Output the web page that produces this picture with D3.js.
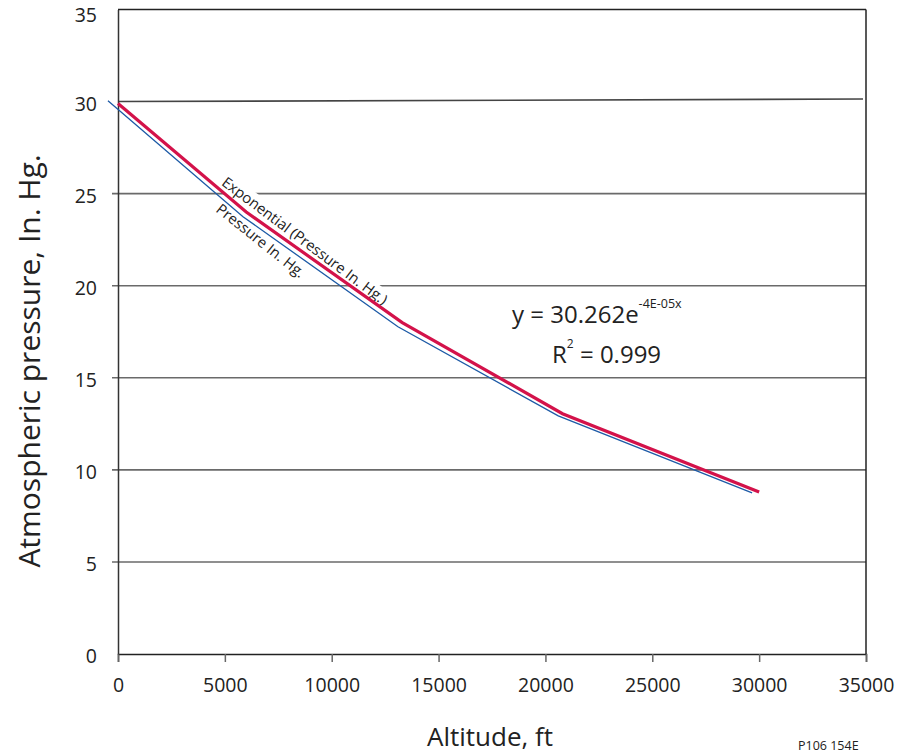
<!DOCTYPE html>
<html><head><meta charset="utf-8">
<script src="https://cdn.jsdelivr.net/npm/d3@7"></script>
<style>
html,body{margin:0;padding:0;background:#fff;}
svg{display:block;font-family:"Open Sans","Noto Sans",sans-serif;}
</style></head>
<body>
<svg id="chart" width="900" height="753"></svg>
<script>
// ---- data ----
const xTicks = [0, 5000, 10000, 15000, 20000, 25000, 30000, 35000];
const yTicks = [0, 5, 10, 15, 20, 25, 30, 35];
// Measured pressure series (blue)
const pressureAlt = [-470, 5850, 13100, 20600, 29670];
const pressureVal = [30.05, 23.75, 17.77, 12.93, 8.75];
// Exponential trendline (red)
const trendAlt = [0, 6000, 13300, 20800, 30000];
const trendVal = [29.9, 24.0, 18.0, 13.05, 8.8];
const equationMain = "y = 30.262e";
const equationExp = "-4E-05x";
const rSquared = "= 0.999";

const svg = d3.select("#chart");
const x = d3.scaleLinear().domain([0, 35000]).range([118, 866]);
const y = d3.scaleLinear().domain([0, 35]).range([654, 9.5]);

// gridlines (with left tick stubs)
const grid = svg.append("g");
yTicks.filter(d => d > 0 && d < 35).forEach(d => {
  grid.append("line")
    .attr("x1", x(0) - (d === 30 ? 0 : 6)).attr("x2", x(35000) - (d === 30 ? 3 : 0))
    .attr("y1", y(d)).attr("y2", y(d) - (d === 30 ? 2.5 : 0))
    .attr("stroke", d === 30 ? "#444" : "#6a6a6a").attr("stroke-width", 1.6);
});

// white box behind the trendline label (hides gridlines)
const lab1 = svg.append("g")
  .attr("transform", `translate(${x(0) + 110},${y(0) - 481}) rotate(36.8)`);
lab1.append("rect").attr("x", -1).attr("y", -1).attr("width", 212).attr("height", 19).attr("fill", "#fff");

// frame
svg.append("line").attr("x1", x(0)).attr("x2", x(35000)).attr("y1", y(35)).attr("y2", y(35))
  .attr("stroke", "#222").attr("stroke-width", 1.5);
svg.append("line").attr("x1", x(35000)).attr("x2", x(35000)).attr("y1", y(35)).attr("y2", y(0))
  .attr("stroke", "#222").attr("stroke-width", 1.5);

// axes
const xAxis = d3.axisBottom(x).tickValues(xTicks).tickSize(8).tickPadding(16).tickFormat(d3.format("d"));
const gx = svg.append("g").attr("transform", `translate(0,${y(0)})`).call(xAxis);
gx.select(".domain").attr("stroke", "#222").attr("stroke-width", 1.5);
gx.selectAll(".tick line").attr("stroke", "#666").attr("stroke-width", 1.5);
gx.selectAll(".tick text").attr("font-size", 19.5).attr("fill", "#222").attr("font-family", "Open Sans");

const yAxis = d3.axisLeft(y).tickValues(yTicks).tickSize(0).tickPadding(21);
const gy = svg.append("g").attr("transform", `translate(${x(0)},0)`).call(yAxis);
gy.select(".domain").attr("stroke", "#333").attr("stroke-width", 1.5);
gy.selectAll(".tick text").attr("font-size", 19.5).attr("fill", "#222").attr("font-family", "Open Sans")
  .attr("dy", d => d === 35 ? "0.6em" : "0.45em");

// series
const line = d3.line().x(d => x(d[0])).y(d => y(d[1]));
svg.append("path").datum(pressureAlt.map((a, i) => [a, pressureVal[i]]))
  .attr("d", line).attr("fill", "none").attr("stroke", "#1d5aa6").attr("stroke-width", 1.3);
svg.append("path").datum(trendAlt.map((a, i) => [a, trendVal[i]]))
  .attr("d", line).attr("fill", "none").attr("stroke", "#d3124a").attr("stroke-width", 3.2);

// line labels
lab1.append("text").attr("x", 1).attr("y", 13.5).attr("font-size", 14.8).attr("fill", "#222")
  .text("Exponential (Pressure In. Hg.)");
svg.append("text").attr("transform", `translate(${x(0) + 97},${y(0) - 443}) rotate(38.5)`)
  .attr("font-size", 14.8).attr("fill", "#222").text("Pressure In. Hg.");

// equation
const eq = svg.append("text").attr("x", 512).attr("y", 323).attr("font-size", 24).attr("fill", "#222");
eq.append("tspan").text(equationMain);
eq.append("tspan").attr("font-size", 12.5).attr("dy", -15).text(equationExp);
const r2 = svg.append("text").attr("x", 552).attr("y", 363).attr("font-size", 24).attr("fill", "#222");
r2.append("tspan").text("R");
r2.append("tspan").attr("font-size", 12).attr("dy", -15).text("2");
r2.append("tspan").attr("dy", 15).text(" " + rSquared);

// axis titles
svg.append("text").attr("x", 490).attr("y", 746).attr("text-anchor", "middle")
  .attr("font-size", 26).attr("fill", "#222").text("Altitude, ft");
svg.append("text").attr("transform", "translate(40,361) rotate(-90)").attr("text-anchor", "middle")
  .attr("font-size", 30).attr("fill", "#222").text("Atmospheric pressure, In. Hg.");

svg.append("text").attr("x", 798).attr("y", 750).attr("font-size", 12.5).attr("fill", "#222").text("P106 154E");
</script>
</body></html>
